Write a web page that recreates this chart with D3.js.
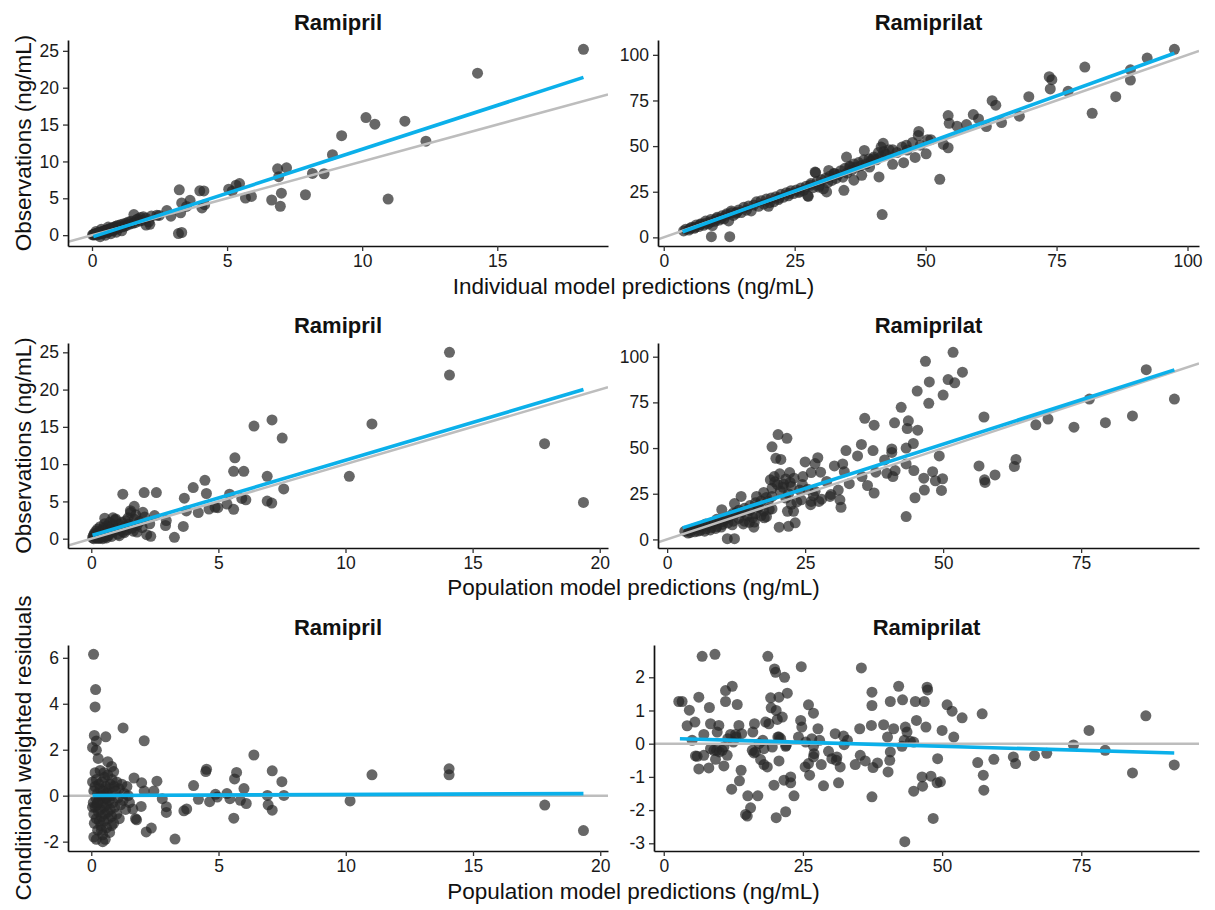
<!DOCTYPE html>
<html>
<head>
<meta charset="utf-8">
<script src="https://cdn.jsdelivr.net/npm/d3@7/dist/d3.min.js"></script>
<style>
  body { margin: 0; background: #fff; }
  text { font-family: "Liberation Sans", Arial, sans-serif; }
</style>
</head>
<body>
<svg id="chart" width="1215" height="910"></svg>
<script>

// ---- data: [prediction, observation] or [prediction, cwres] ----
const ramiprilIpred = [
  [0.02,0.05],[0.05,0.1],[0.08,0.02],[0.1,0.15],[0.12,0.2],[0.15,0.1],[0.18,0.25],[0.2,0.05],[0.22,0.3],[0.25,0.2],
  [0.28,0.35],[0.3,0.15],[0.32,0.4],[0.35,0.3],[0.38,0.5],[0.4,0.25],[0.42,0.55],[0.45,0.4],[0.48,0.6],[0.5,0.35],
  [0.52,0.7],[0.55,0.5],[0.58,0.75],[0.6,0.45],[0.62,0.8],[0.65,0.6],[0.68,0.9],[0.7,0.55],[0.72,0.95],[0.75,0.7],
  [0.78,1.0],[0.8,0.65],[0.82,1.1],[0.85,0.8],[0.88,1.2],[0.9,0.9],[0.95,1.3],[1.0,1.0],[1.05,1.4],[1.1,1.1],
  [1.15,1.5],[1.2,1.2],[1.25,1.6],[1.3,1.35],[1.35,1.8],[1.4,1.5],[1.45,1.9],[1.5,1.6],[1.55,2.8],[1.6,1.7],
  [1.65,2.1],[1.7,2.2],[1.75,1.9],[1.8,2.4],[1.85,2.0],[1.9,2.5],[2.0,2.3],[2.1,1.8],[2.2,2.6],[2.4,2.7],
  [0.3,-0.2],[0.5,0.0],[0.7,0.2],[0.9,0.4],[1.1,0.6],[0.15,0.5],[0.35,0.8],[0.6,1.1],
  [2.14,1.47],[2.0,1.38],[2.49,2.67],[2.77,3.34],[2.92,2.58],[3.28,3.03],[3.2,0.22],[3.32,0.36],[3.23,6.15],[3.32,4.37],
  [3.63,4.72],[3.5,3.9],[4.07,3.7],[4.17,4.14],[3.99,6.02],[4.14,6.0],[5.06,6.24],[5.19,5.97],[5.33,6.77],[5.46,7.0],
  [5.68,5.04],[5.9,5.26],[6.65,4.77],[6.97,3.92],[7.01,5.7],[6.91,7.93],[6.87,9.0],[7.2,9.14],[7.9,5.48],[8.16,8.38],
  [8.59,8.33],[8.9,10.92],[9.24,13.5],[10.14,15.95],[10.47,15.06],[10.96,4.9],[11.58,15.46],[12.36,12.74],[14.27,21.97],[18.19,25.2]
];
const ramiprilIpredFit = [[0.05,-0.2],[18.19,21.4]];

const ramiprilatIpred = [
  [3.8,3.5],[4.2,4.5],[4.8,4.0],[5.3,5.5],[5.8,5.0],[6.2,6.8],[6.7,5.9],[7.1,7.5],[7.6,6.6],[8.0,8.9],
  [8.5,7.4],[9.0,9.8],[9.3,6.5],[9.8,8.8],[10.2,11.0],[10.6,9.5],[11.1,11.8],[11.5,10.2],[12.0,12.9],[12.4,9.0],
  [12.9,14.5],[13.3,12.0],[13.8,13.2],[14.3,15.0],[14.8,13.6],[15.3,16.5],[15.8,14.9],[16.2,17.2],[16.7,14.5],[17.2,17.8],
  [17.7,19.5],[18.1,17.0],[18.6,20.1],[19.1,18.2],[19.6,21.0],[20.0,17.0],[20.5,21.5],[21.0,19.5],[21.4,22.3],[21.9,20.7],
  [22.4,23.6],[22.9,22.0],[23.4,24.5],[23.8,22.8],[24.3,25.6],[24.8,24.0],[25.3,26.0],[25.8,24.6],[26.2,27.1],[26.7,25.8],
  [27.2,28.0],[27.6,22.5],[28.1,29.5],[28.5,27.2],[29.0,35.5],[29.3,30.6],[29.7,28.5],[30.1,31.5],[30.5,26.6],[30.9,32.4],
  [31.3,30.0],[31.7,33.5],[32.1,31.2],[32.5,35.0],[32.9,32.3],[33.3,34.4],[33.8,36.5],[34.2,33.0],[34.6,37.8],[35.0,35.2],
  [35.5,39.0],[35.9,36.8],[36.3,40.2],[36.8,38.5],[37.2,41.0],[37.7,39.4],[38.2,42.5],[38.7,40.3],[39.2,43.0],[39.6,41.8],
  [40.1,44.0],[40.6,42.5],[41.0,46.5],[41.5,44.2],[42.0,47.0],[42.4,45.5],[43.0,48.0],[44.5,46.5],[45.5,49.5],[46.5,47.8],
  [47.5,52.0],[49.0,50.5],[51.0,53.5],[5.0,4.8],[6.0,5.5],[7.0,7.0],[8.0,7.8],[9.0,8.5],[10.0,10.2],[11.0,10.5],
  [12.0,12.3],[13.0,13.5],[14.0,13.8],[20.2,19.0],[22.0,21.5],[24.0,24.1],[26.0,25.2],[28.0,28.5],
  [97.5,103],[92.3,98.2],[89.1,91.8],[89.1,86.2],[86.3,77.1],[80.4,93.3],[81.8,68],[77.2,80],[73.6,88],[74.1,86.4],
  [73.8,81.3],[69.7,77.1],[67.9,66.4],[62.7,74.9],[63.4,72.4],[59.1,67.3],[60.1,64.9],[61.6,60.7],[64.5,62.9],[57.8,61.8],
  [54.3,66.7],[54.5,62.5],[56,60.9],[53.4,50.9],[54.3,49.1],[52.7,31.8],[48.7,58],[48.6,55.8],[50.4,53.5],[50.1,45.8],
  [48.0,43.8],[46.3,50.4],[45.8,40.9],[43.7,48],[43.7,40],[41.7,12.5],[41.9,51.5],[41.5,49.5],[41.1,33.1],[38.3,47.6],
  [40.0,43.1],[39.3,38.5],[34.9,44],[34.4,25.8],[35.6,38.5],[36.3,31.3],[37.8,34],[28.9,35.8],[31.1,24.9],[27.5,22.7],
  [29.6,27.6],[31.5,36.7],[32.6,34.9],[9.1,0.4],[12.6,0.4]
];
const ramiprilatIpredFit = [[3.6,3.1],[97.5,100.9]];

const ramiprilPred = [
  [0.05,0.1],[0.08,0.4],[0.1,0.0],[0.12,0.7],[0.15,0.3],[0.18,1.0],[0.2,0.15],[0.22,0.55],[0.25,1.3],[0.28,0.05],
  [0.3,0.8],[0.32,0.35],[0.35,1.6],[0.38,0.6],[0.4,1.1],[0.42,0.2],[0.45,0.9],[0.48,1.4],[0.5,0.45],[0.52,2.0],
  [0.55,0.7],[0.58,1.2],[0.6,0.1],[0.62,1.7],[0.65,0.95],[0.68,0.4],[0.7,1.5],[0.72,2.2],[0.75,0.75],[0.78,1.25],
  [0.8,0.3],[0.85,1.9],[0.9,1.0],[0.95,2.5],[1.0,1.4],[1.05,0.6],[1.1,1.9],[1.15,1.1],[1.2,2.2],[1.25,0.9],
  [1.3,1.6],[1.35,2.4],[1.4,1.2],[1.5,2.0],[1.6,1.4],[1.7,2.6],[1.8,1.8],[1.9,2.3],[2.0,1.5],[2.1,2.9],
  [0.25,0.05],[0.45,0.0],[0.55,0.25],[0.15,0.6],[0.35,0.1],[0.65,0.5],[0.85,2.8],[1.55,3.5],[1.45,2.8],[1.75,3.2],
  [1.3,0.8],[1.1,0.4],[2.3,2.0],[1.65,1.0],
  [14.09,25.0],[14.09,21.95],[11.04,15.4],[10.15,8.36],[17.83,12.74],[19.36,4.87],[7.11,15.93],[6.4,15.1],[7.51,13.5],[5.65,10.84],
  [5.6,9.03],[6.0,9.03],[6.92,8.36],[7.57,6.68],[6.92,5.04],[7.1,4.78],[5.44,5.97],[5.92,5.4],[6.08,5.22],[5.34,4.65],
  [5.6,3.94],[4.47,7.83],[4.53,6.06],[4.01,6.86],[3.66,5.44],[3.74,3.72],[4.21,3.5],[4.63,3.98],[4.87,4.2],[4.98,4.16],
  [3.62,1.64],[3.27,0.18],[2.34,0.31],[2.18,0.53],[2.08,6.19],[2.56,6.19],[1.24,5.97],[2.95,2.43],[2.92,1.77],[2.49,3.1],
  [1.69,4.34],[1.54,3.76],[2.03,3.54],[1.8,0.88],[0.96,2.65],[0.53,2.74]
];
const ramiprilPredFit = [[0.05,0.45],[19.36,20.0]];

const ramiprilatPred = [
  [51.8,102.4],[46.8,97.5],[53.5,91.5],[50.9,87.5],[52.1,85.7],[47.5,86.2],[45.3,81.2],[50.0,79],[47.4,74.5],[42.4,72.3],
  [41.2,63.8],[37.5,62.5],[35.8,66.3],[43.7,64.9],[43.5,60.7],[45.4,59.8],[57.4,67],[86.8,92.9],[91.9,76.8],[76.5,76.8],
  [84.3,67.6],[79.4,63.9],[73.7,61.4],[69.0,65.9],[66.8,62.7],[63.2,43.8],[62.9,39.9],[59.4,35.3],[57.6,31.2],[57.5,32.6],
  [56.5,40.2],[49.3,45.7],[49.9,33.2],[49.7,26.8],[48.6,32.1],[48.1,37.1],[46.5,33.5],[46.6,27],[44.9,22.8],[43.3,12.5],
  [44.7,37.7],[44.6,52.5],[43.3,50],[43.3,41.3],[40.7,49.5],[40.7,47.6],[40.9,34.4],[39.8,36.2],[41.3,37.7],[39.4,43.5],
  [37.3,48.6],[37.8,36.8],[37.5,25.4],[36.3,29.5],[35.2,52],[34.5,45.7],[35.3,34.4],[32.4,48.6],[32.1,37.1],[31.8,41.3],
  [30.3,40.2],[31.3,21.7],[31.5,17.6],[29.7,24.6],[28.9,31.7],[27.8,36.8],[27.3,44.7],[26.8,41.5],[26.1,36.6],[25.0,42.4],
  [24.6,34.4],[24.3,21.7],[26.1,20.8],[27.5,20.8],[26.8,26.3],[26.0,19],[23.2,9.1],[22.0,7.2],[20.3,6.7],[20.1,57.4],
  [21.7,55.3],[19.0,50.7],[19.7,44.4],[20.6,43.8],[18.7,32.6],[19.4,34.4],[20.4,35.9],[22.2,36.6],[21.1,30.3],[22.3,31.2],
  [21.5,22.6],[22.5,19.2],[21.8,15.4],[22.9,15.4],[19.0,23.5],[18.3,20.8],[17.5,25.7],[16.2,23.5],[16.5,18.1],[19.0,16.7],
  [17.6,11.8],[13.4,23.5],[15.7,6.7],[14.9,9.4],[10.9,0.4],[12.2,0.4],[9.9,16.3],[12.2,19.6],
  [3.2,4.5],[3.8,3.5],[4.5,5.5],[5.0,4.2],[5.5,6.5],[6.0,5.0],[6.5,7.5],[7.0,5.8],[7.5,8.0],[8.0,6.5],
  [8.5,9.5],[9.0,7.0],[9.5,10.5],[10.0,8.2],[10.5,11.0],[11.0,9.0],[11.5,13.0],[12.0,10.0],[12.5,14.5],[13.0,11.5],
  [13.5,15.0],[14.0,10.0],[14.5,13.0],[15.0,16.0],[15.5,12.0],[16.0,14.0],[16.5,17.5],[17.0,13.0],[17.5,15.5],[18.0,12.5],
  [18.5,16.5],[19.0,28.0],[19.5,31.5],[20.0,30.0],[20.5,26.5],[21.0,28.5],[21.5,33.0],[22.0,25.0],[22.5,29.0],[18.0,23.0],
  [17.0,21.0],[16.0,20.0],[15.0,18.5],[14.0,17.0],[13.0,16.0],[12.0,14.5],[11.0,12.0],[10.0,9.8],[9.0,11.0],[8.0,9.0],
  [7.0,8.5],[6.0,7.0],[5.0,6.0],[4.0,4.8],[6.8,4.5],[7.8,5.2],[8.8,6.0],[9.8,6.8],[11.8,8.0],[13.8,8.5],
  [15.8,9.5],[4.2,3.8],[5.6,4.6],[23.5,20.5],[24.0,27.0],[24.5,30.0],[25.5,27.5],[23.0,33.5],[26.5,24.0],[28.0,22.0],
  [29.5,23.5],[31.0,27.0],[33.0,30.5]
];
const ramiprilatPredFit = [[2.8,6.3],[91.9,92.8]];

const ramiprilCwres = [
  [0.09,6.15],[0.17,4.62],[0.15,3.86],[0.12,2.62],[0.2,2.38],[0.05,2.1],[0.2,1.98],[0.57,2.56],[1.25,2.95],[2.08,2.39],
  [0.27,1.62],[0.65,1.48],[0.8,1.27],[0.88,1.05],[6.39,1.77],[4.5,1.05],[4.53,1.15],[4.02,0.44],[5.6,-0.98],[5.63,0.73],
  [5.71,1.01],[6.0,0.31],[7.11,1.08],[7.49,0.61],[7.57,0.01],[6.92,0.01],[6.95,-0.4],[7.11,-0.63],[6.09,-0.34],[5.86,-0.2],
  [5.45,-0.13],[5.33,0.09],[4.88,0.06],[4.95,-0.06],[4.65,-0.26],[4.21,-0.16],[3.75,-0.58],[3.64,-0.66],[3.29,-1.89],[2.95,-0.48],
  [2.95,-0.73],[2.79,-0.13],[2.58,0.63],[2.46,0.2],[2.36,-1.41],[2.16,-1.58],[1.96,-0.47],[1.74,-1.0],[1.78,-1.05],[1.68,0.77],
  [1.63,-0.58],[1.98,0.56],[2.08,0.2],[10.17,-0.23],[11.03,0.91],[14.06,1.17],[14.06,0.91],[17.82,-0.41],[19.34,-1.52],
  [0.05,0.6],[0.08,-0.3],[0.1,0.2],[0.1,-0.8],[0.12,-1.2],[0.15,0.4],[0.15,-0.5],[0.18,-0.1],[0.2,-1.0],[0.2,0.7],
  [0.22,-0.4],[0.25,0.1],[0.25,-1.5],[0.28,-0.7],[0.3,0.5],[0.3,-0.2],[0.32,-1.1],[0.35,0.3],[0.35,-0.6],[0.38,-1.3],
  [0.4,0.0],[0.4,-0.9],[0.42,0.6],[0.45,-0.3],[0.45,-1.7],[0.48,0.2],[0.5,-0.5],[0.5,-1.1],[0.52,0.8],[0.55,-0.1],
  [0.55,-0.8],[0.58,0.4],[0.6,-1.4],[0.6,-0.4],[0.62,0.1],[0.65,-0.7],[0.65,0.9],[0.68,-1.0],[0.7,0.3],[0.7,-0.2],
  [0.72,-1.6],[0.75,0.5],[0.75,-0.6],[0.78,0.0],[0.8,-0.9],[0.82,0.7],[0.85,-0.3],[0.88,-1.2],[0.9,0.4],[0.92,-0.5],
  [0.95,0.2],[1.0,-0.8],[1.0,0.6],[1.05,-0.1],[1.1,0.3],[1.1,-1.0],[1.15,-0.4],[1.2,0.5],[1.25,-0.2],[1.3,0.1],
  [1.35,-0.6],[1.4,0.4],[1.45,0.0],[1.5,-0.3],[0.1,-1.8],[0.2,-1.9],[0.4,-1.5],[0.55,-1.9],[0.8,-1.3],[0.15,1.0],
  [0.35,1.1],[0.5,1.0],[0.45,-2.0],[0.05,-0.5],[0.25,-0.3],[0.6,-0.1]
];
const ramiprilCwresFit = [[0.05,0.01],[19.34,0.09]];

const ramiprilatCwres = [
  [2.7,1.27],[3.3,1.27],[6.9,2.63],[9.2,2.69],[4.6,1.01],[6.3,1.4],[8.2,1.09],[4.2,0.54],[5.6,0.65],[5.1,0.1],
  [7.2,0.28],[8.4,0.6],[9.9,0.55],[9.6,0.35],[5.7,-0.37],[6.0,-0.38],[7.2,-0.35],[6.3,-0.76],[8.1,-0.73],[8.4,-0.15],
  [9.3,-0.47],[9.0,-0.2],[10.5,-0.2],[10.8,-0.67],[11.1,1.6],[12.3,1.73],[11.1,1.27],[13.2,1.18],[12.0,0.28],[12.9,0.28],
  [13.5,0.55],[11.4,-0.35],[12.2,-1.37],[13.9,-0.8],[13.6,-1.12],[15.1,-1.57],[16.9,-1.57],[15.6,-1.93],[14.7,-2.13],[15.0,-2.18],
  [20.2,-2.23],[21.9,-2.05],[19.8,-1.25],[21.6,-1.1],[22.8,-1.0],[22.8,-1.18],[23.4,-1.57],[16.3,0.6],[16.0,0.35],[17.1,0.0],
  [18.0,-0.15],[18.3,0.65],[18.9,0.6],[17.4,-0.48],[18.0,-0.63],[18.6,-0.7],[20.7,-0.52],[15.9,-0.2],[16.2,-0.28],[19.2,1.38],
  [19.3,1.08],[20.2,1.0],[20.7,1.4],[19.9,2.25],[20.1,2.15],[18.7,2.63],[21.7,2.0],[22.2,1.52],[20.4,0.73],[21.3,0.8],
  [20.5,0.2],[21.9,-0.08],[20.7,0.2],[24.7,2.32],[24.6,0.7],[24.8,0.5],[24.2,0.2],[26.0,1.17],[26.9,0.92],[26.6,0.15],
  [26.9,-0.08],[27.7,0.45],[25.4,-0.7],[26.2,-0.95],[26.9,-0.4],[28.3,-0.63],[28.7,-1.27],[29.6,-0.23],[30.2,-0.45],[30.8,0.3],
  [31.1,-0.4],[31.4,-1.18],[31.7,-0.7],[32.3,0.23],[32.4,-0.03],[34.4,-0.63],[35.2,0.45],[35.3,-0.35],[36.2,-0.52],[35.5,2.28],
  [37.4,1.55],[37.4,1.15],[37.3,0.55],[37.6,-0.72],[37.4,-1.6],[38.4,-0.58],[39.5,0.57],[40.2,0.2],[40.7,1.27],[40.7,-0.25],
  [40.6,-0.5],[40.3,-0.85],[41.3,0.45],[42.2,1.73],[42.9,1.32],[43.4,0.5],[43.7,0.35],[43.2,0.1],[42.8,-0.08],[44.3,0.07],
  [44.9,0.05],[45.2,1.27],[45.4,0.7],[46.8,1.27],[47.3,1.7],[47.4,1.62],[47.1,0.5],[44.9,-1.43],[46.5,-1.28],[46.4,-1.0],
  [48.0,-0.98],[48.4,-2.25],[49.2,-0.45],[49.7,-1.15],[49.1,-1.18],[50.0,0.4],[50.9,1.17],[51.8,0.98],[52.1,0.2],[53.6,0.78],
  [43.3,-2.95],[57.2,0.9],[56.4,-0.57],[57.4,-0.95],[57.5,-1.4],[59.3,-0.47],[62.8,-0.4],[63.2,-0.6],[66.6,-0.36],[68.8,-0.29],
  [73.6,-0.04],[76.4,0.4],[79.3,-0.2],[84.2,-0.88],[86.6,0.84],[91.7,-0.64],
  [9.5,-0.2],[10.0,-0.25],[10.8,-0.1],[11.5,0.15],[12.5,0.05],[13.0,0.2],[14.0,0.3],[16.5,-0.25],[17.8,0.1],[19.5,-0.1],
  [21.0,0.15],[22.0,-0.05],[25.5,0.05],[27.0,-0.3],[28.0,0.1],[33.0,0.1],[31.0,-0.5],[26.0,-0.6]
];
const ramiprilatCwresFit = [[2.9,0.15],[91.7,-0.28]];

const ticksRamiprilX = [0, 5, 10, 15, 20];
const ticksRamiprilY = [0, 5, 10, 15, 20, 25];
const ticksRamiprilatX = [0, 25, 50, 75, 100];
const ticksRamiprilatY = [0, 25, 50, 75, 100];
const ticksCwresRamiprilY = [-2, 0, 2, 4, 6];
const ticksCwresRamiprilatY = [-3, -2, -1, 0, 1, 2];

const rowXLabels = ["Individual model predictions (ng/mL)", "Population model predictions (ng/mL)", "Population model predictions (ng/mL)"];
const rowYLabels = ["Observations (ng/mL)", "Observations (ng/mL)", "Conditional weighted residuals"];

// ---- layout ----
const svg = d3.select("#chart");
const rowTop = [40, 343, 645],
      rowBottom = [246, 548, 851],
      colLeft = [68, 658],
      colRight = [608, 1199];

const panels = [
  {row: 0, col: 0, title: "Ramipril",   data: ramiprilIpred,    fit: ramiprilIpredFit,    ref: "identity", xt: ticksRamiprilX,   yt: ticksRamiprilY},
  {row: 0, col: 1, title: "Ramiprilat", data: ramiprilatIpred,  fit: ramiprilatIpredFit,  ref: "identity", xt: ticksRamiprilatX, yt: ticksRamiprilatY},
  {row: 1, col: 0, title: "Ramipril",   data: ramiprilPred,     fit: ramiprilPredFit,     ref: "identity", xt: ticksRamiprilX,   yt: ticksRamiprilY},
  {row: 1, col: 1, title: "Ramiprilat", data: ramiprilatPred,   fit: ramiprilatPredFit,   ref: "identity", xt: ticksRamiprilatX, yt: ticksRamiprilatY},
  {row: 2, col: 0, title: "Ramipril",   data: ramiprilCwres,    fit: ramiprilCwresFit,    ref: "zero",     xt: ticksRamiprilX,   yt: ticksCwresRamiprilY},
  {row: 2, col: 1, title: "Ramiprilat", data: ramiprilatCwres,  fit: ramiprilatCwresFit,  ref: "zero",     xt: ticksRamiprilatX, yt: ticksCwresRamiprilatY, left: 654}
];

function expanded(values) {
  const [lo, hi] = d3.extent(values);
  const pad = (hi - lo) * 0.05;
  return [lo - pad, hi + pad];
}

panels.forEach(function (p, i) {
  const x0 = p.left || colLeft[p.col], x1 = colRight[p.col];
  const y0 = rowTop[p.row], y1 = rowBottom[p.row];
  const all = p.data.concat(p.fit);

  const xScale = d3.scaleLinear().domain(expanded(all.map(d => d[0]))).range([x0, x1]);
  const yScale = d3.scaleLinear().domain(expanded(all.map(d => d[1]))).range([y1, y0]);

  svg.append("clipPath").attr("id", "clip" + i)
    .append("rect").attr("x", x0).attr("y", y0).attr("width", x1 - x0).attr("height", y1 - y0);

  const g = svg.append("g").attr("clip-path", "url(#clip" + i + ")");

  g.selectAll("circle").data(p.data).enter().append("circle")
    .attr("cx", d => xScale(d[0]))
    .attr("cy", d => yScale(d[1]))
    .attr("r", 5.5)
    .attr("fill", "#262626")
    .attr("fill-opacity", 0.7);

  const xd = xScale.domain();
  const refLine = p.ref === "identity" ? [[xd[0], xd[0]], [xd[1], xd[1]]] : [[xd[0], 0], [xd[1], 0]];
  const line = d3.line().x(d => xScale(d[0])).y(d => yScale(d[1]));

  g.append("path").datum(refLine)
    .attr("d", line).attr("fill", "none")
    .attr("stroke", "#bdbdbd").attr("stroke-width", 2.5);

  g.append("path").datum(p.fit)
    .attr("d", line).attr("fill", "none")
    .attr("stroke", "#0bb0ea").attr("stroke-width", 3.6);

  const xTicks = p.xt.filter(t => t >= xd[0] && t <= xd[1]);
  const xAxis = svg.append("g")
    .attr("transform", "translate(0," + y1 + ")")
    .call(d3.axisBottom(xScale).tickValues(xTicks).tickSize(5).tickSizeOuter(0).tickPadding(4));
  const yAxis = svg.append("g")
    .attr("transform", "translate(" + x0 + ",0)")
    .call(d3.axisLeft(yScale).tickValues(p.yt).tickSize(5).tickSizeOuter(0).tickPadding(4).tickFormat(d3.format("d")));

  [xAxis, yAxis].forEach(function (ax) {
    ax.select(".domain").attr("stroke", "#111").attr("stroke-width", 1.7);
    ax.selectAll(".tick line").attr("stroke", "#333").attr("stroke-width", 1.3);
    ax.selectAll(".tick text").attr("fill", "#1a1a1a").style("font-size", "17.5px")
      .style("font-family", "'Liberation Sans', Arial, sans-serif")
      .text(d => d < 0 ? "-" + Math.abs(d) : d);
  });

  svg.append("text")
    .attr("x", (x0 + x1) / 2)
    .attr("y", y0 - 10)
    .attr("text-anchor", "middle")
    .attr("font-weight", "bold")
    .attr("font-size", "22px")
    .attr("fill", "#111")
    .text(p.title);
});

const xLabelBase = [294, 595, 899];
rowXLabels.forEach(function (label, r) {
  svg.append("text")
    .attr("x", (colLeft[0] + colRight[1]) / 2)
    .attr("y", xLabelBase[r])
    .attr("text-anchor", "middle")
    .attr("font-size", "22.5px")
    .attr("fill", "#111")
    .text(label);
});

rowYLabels.forEach(function (label, r) {
  const cy = (rowTop[r] + rowBottom[r]) / 2;
  svg.append("text")
    .attr("transform", "translate(31," + cy + ") rotate(-90)")
    .attr("text-anchor", "middle")
    .attr("font-size", "22.5px")
    .attr("fill", "#111")
    .text(label);
});

</script>
</body>
</html>
